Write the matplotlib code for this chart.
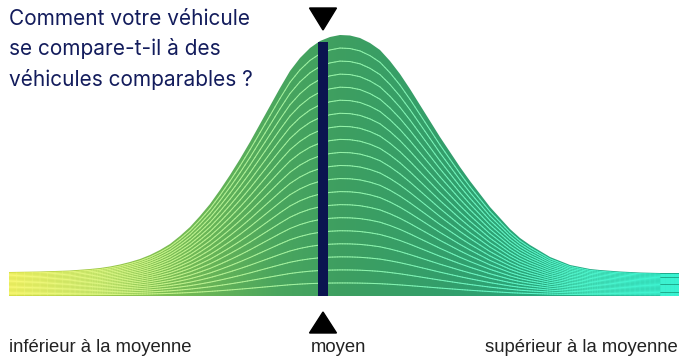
import numpy as np
import matplotlib
matplotlib.use("Agg")
import matplotlib.pyplot as plt
from matplotlib.colors import LinearSegmentedColormap
from matplotlib.collections import LineCollection
from matplotlib.patches import Polygon

# distribution (x position, curve height)
score = [9, 40, 70, 90, 100, 110, 120, 130, 140, 150, 160, 170, 180, 190, 200, 210, 220, 230,
         240, 250, 260, 270, 280, 290, 300, 310, 320, 330, 340, 350, 360, 370, 380, 390, 400,
         410, 420, 430, 440, 450, 460, 470, 480, 490, 500, 510, 520, 530, 540, 550, 560, 570,
         580, 590, 600, 620, 640, 660, 679]
density = [24, 24.5, 25.5, 27, 28, 29.5, 31.5, 34, 37, 41, 46, 52, 60, 69, 80, 92, 106, 121,
           137, 154, 172, 190, 208, 225, 238, 248, 255, 259, 261, 260.5, 258, 253, 246, 235, 222,
           207, 191, 175, 159, 144, 129, 115, 102, 89, 78, 67, 58, 51, 45, 39, 35, 31,
           29, 27, 26, 24.5, 23.5, 23, 23]
vehicle_pos = 323
n_lines = 20

title = "Comment votre véhicule\nse compare-t-il à des\nvéhicules comparables ?"
labels = ["inférieur à la moyenne", "moyen", "supérieur à la moyenne"]

x = np.array(score, dtype=float)
h = np.array(density, dtype=float)

fig = plt.figure(figsize=(6.87, 3.59), dpi=100)
ax = fig.add_axes([0, 0, 1, 1])
ax.set_xlim(0, 687)
ax.set_ylim(-63, 296)
ax.axis("off")

fill_cmap = LinearSegmentedColormap.from_list("fill", [
    (0.0, (0.78, 0.83, 0.20)),
    (0.22, (0.50, 0.75, 0.32)),
    (0.40, (0.29, 0.65, 0.37)),
    (0.50, (0.24, 0.62, 0.38)),
    (0.65, (0.20, 0.62, 0.42)),
    (0.82, (0.15, 0.66, 0.50)),
    (1.0, (0.12, 0.68, 0.56)),
])
line_cmap = LinearSegmentedColormap.from_list("lines", [
    (0.0, (0.97, 0.97, 0.45)),
    (0.25, (0.76, 0.95, 0.55)),
    (0.50, (0.58, 0.95, 0.66)),
    (0.75, (0.38, 0.96, 0.78)),
    (1.0, (0.22, 0.95, 0.82)),
])

# gradient fill clipped to the curve
grad = np.linspace(0, 1, 256).reshape(1, -1)
img = ax.imshow(grad, extent=[x[0], x[-1], 0, h.max()], aspect="auto",
                cmap=fill_cmap, origin="lower", zorder=1)
poly = Polygon(np.column_stack([np.r_[x, x[-1], x[0]], np.r_[h, 0, 0]]),
               closed=True, facecolor="none", edgecolor="none")
ax.add_patch(poly)
img.set_clip_path(poly)

# stripes: scaled copies of the curve, split finer so the colour shifts smoothly
sub = 4
t = np.linspace(0, len(x) - 1, (len(x) - 1) * sub + 1)
xs = np.interp(t, np.arange(len(x)), x)
hs = np.interp(t, np.arange(len(x)), h)
frac = (xs - x[0]) / (x[-1] - x[0])
mid = (frac[:-1] + frac[1:]) / 2
for k in range(1, n_lines):
    yk = hs * k / n_lines
    segs = np.stack([np.column_stack([xs[:-1], yk[:-1]]),
                     np.column_stack([xs[1:], yk[1:]])], axis=1)
    lc = LineCollection(segs, colors=line_cmap(mid), linewidths=0.75, zorder=2,
                        capstyle="round")
    lc.set_clip_path(poly)
    ax.add_collection(lc)

# vehicle marker
top = np.interp(vehicle_pos, x, h) - 2
ax.fill_between([vehicle_pos - 5, vehicle_pos + 5], 0, top, color="#0b1450", zorder=3, lw=0)
ax.add_patch(Polygon([[vehicle_pos - 13.5, 288], [vehicle_pos + 13.5, 288], [vehicle_pos, 266]],
                     closed=True, color="black", zorder=3))
ax.add_patch(Polygon([[vehicle_pos - 13.5, -37], [vehicle_pos + 13.5, -37], [vehicle_pos, -16]],
                     closed=True, color="black", zorder=3))

ax.text(9, 287, title, fontsize=15, family="Inter", color="#131c5c",
        va="top", ha="left", linespacing=1.55)

ax.text(9, -51, labels[0], fontsize=13.3, family="Liberation Sans", color="#222222", va="center", ha="left")
ax.text(338, -51, labels[1], fontsize=13.3, family="Liberation Sans", color="#222222", va="center", ha="center")
ax.text(678, -51, labels[2], fontsize=13.3, family="Liberation Sans", color="#222222", va="center", ha="right")

fig.savefig("out.png", dpi=100)
